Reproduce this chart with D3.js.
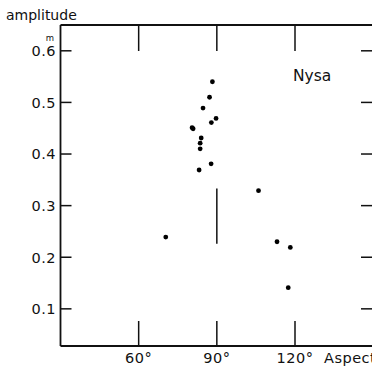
<!DOCTYPE html>
<html>
<head>
<meta charset="utf-8">
<script src="https://cdn.jsdelivr.net/npm/d3@7"></script>
<style>
  body { margin: 0; background: #fff; }
  svg { display: block; }
  text { font-family: "DejaVu Sans", sans-serif; fill: #111; }
  .tick-label { font-size: 14.5px; letter-spacing: 0.5px; }
</style>
</head>
<body>
<div id="chart"></div>
<script>
// aspect (deg) and amplitude (mag) of the Nysa observations
var aspect = [88.3, 87.2, 84.7, 89.7, 87.9, 80.5, 80.9, 84.0, 83.6, 83.6, 87.8, 83.2, 106.0, 70.4, 113.1, 118.2, 117.4];
var amplitude = [0.540, 0.510, 0.489, 0.469, 0.461, 0.451, 0.449, 0.431, 0.421, 0.410, 0.381, 0.369, 0.329, 0.239, 0.230, 0.219, 0.141];

var xTicks = [60, 90, 120];
var xTickLabels = ["60°", "90°", "120°"];
var yTicks = [0.1, 0.2, 0.3, 0.4, 0.5, 0.6];
var yTickLabels = ["0.1", "0.2", "0.3", "0.4", "0.5", "0.6"];

// vertical marker drawn at 90 deg aspect
var markerAspect = 90;
var markerRange = [0.226, 0.333];

var width = 372, height = 366;

var svg = d3.select("#chart").append("svg")
    .attr("width", width)
    .attr("height", height);

var x = d3.scaleLinear().domain([30, 120]).range([60.5, 295]);
var y = d3.scaleLinear().domain([0.028, 0.65]).range([346, 25]);

var xLeft = x(30), xRight = width, yTop = y(0.65), yBottom = y(0.028);

var frame = svg.append("g")
    .attr("stroke", "#111")
    .attr("fill", "none");

// frame lines (left, top, bottom)
frame.append("line").attr("x1", xLeft).attr("x2", xLeft).attr("y1", yTop).attr("y2", yBottom).attr("stroke-width", 1.8);
frame.append("line").attr("x1", xLeft).attr("x2", xRight).attr("y1", yTop).attr("y2", yTop).attr("stroke-width", 1.8);
frame.append("line").attr("x1", xLeft).attr("x2", xRight).attr("y1", yBottom).attr("y2", yBottom).attr("stroke-width", 1.8);

// x ticks, top and bottom
xTicks.forEach(function(t){
    frame.append("line").attr("x1", x(t)).attr("x2", x(t)).attr("y1", yTop).attr("y2", yTop + 26).attr("stroke-width", 1.5);
    frame.append("line").attr("x1", x(t)).attr("x2", x(t)).attr("y1", yBottom - 25).attr("y2", yBottom).attr("stroke-width", 1.5);
});

// y ticks, left and right
yTicks.forEach(function(t){
    frame.append("line").attr("x1", xLeft).attr("x2", xLeft + 11).attr("y1", y(t)).attr("y2", y(t)).attr("stroke-width", 1.5);
    frame.append("line").attr("x1", xRight - 11).attr("x2", xRight).attr("y1", y(t)).attr("y2", y(t)).attr("stroke-width", 1.5);
});

// marker
frame.append("line")
    .attr("x1", x(markerAspect)).attr("x2", x(markerAspect))
    .attr("y1", y(markerRange[1])).attr("y2", y(markerRange[0]))
    .attr("stroke-width", 1.5);

// tick labels
svg.selectAll(".ylab").data(yTicks).enter().append("text")
    .attr("class", "tick-label ylab")
    .attr("x", 56)
    .attr("y", function(d){ return y(d); })
    .attr("dy", "0.37em")
    .attr("text-anchor", "end")
    .text(function(d, i){ return yTickLabels[i]; });

svg.selectAll(".xlab").data(xTicks).enter().append("text")
    .attr("class", "tick-label xlab")
    .attr("x", function(d){ return x(d); })
    .attr("y", 363)
    .attr("text-anchor", "middle")
    .text(function(d, i){ return xTickLabels[i]; });

svg.append("text")
    .attr("x", 324).attr("y", 363)
    .attr("font-size", "14.5px")
    .attr("letter-spacing", "0.5px")
    .text("Aspect");

svg.append("text")
    .attr("x", 6).attr("y", 20)
    .attr("font-size", "14px")
    .text("amplitude");

svg.append("text")
    .attr("x", 50).attr("y", 41)
    .attr("font-size", "8.5px")
    .attr("text-anchor", "middle")
    .text("m");

svg.append("text")
    .attr("x", 293).attr("y", 81)
    .attr("font-size", "15.5px")
    .text("Nysa");

// points
svg.selectAll(".pt").data(aspect).enter().append("circle")
    .attr("class", "pt")
    .attr("cx", function(d){ return x(d); })
    .attr("cy", function(d, i){ return y(amplitude[i]); })
    .attr("r", 2.4)
    .attr("fill", "#000");
</script>
</body>
</html>
